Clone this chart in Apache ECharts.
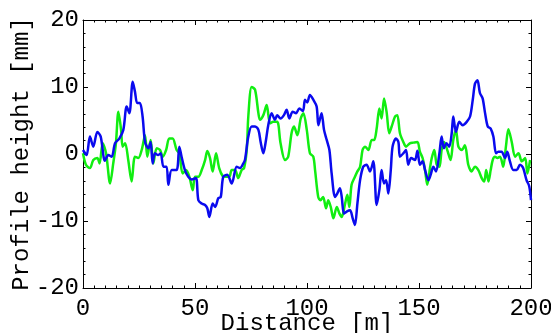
<!DOCTYPE html>
<html><head><meta charset="utf-8">
<script src="https://cdn.jsdelivr.net/npm/echarts@6/dist/echarts.min.js"></script>
<style>html,body{margin:0;padding:0;background:#fff}#c{width:551px;height:333px}</style>
</head><body><div id="c"></div>
<script>
const xTicks = [0, 50, 100, 150, 200];
const yTicks = [-20, -10, 0, 10, 20];

const blueDist = [0,1.6,3.1,4.6,6.4,7.9,9.8,11.3,12.8,14.3,16.2,18,19.5,20.7,22.2,23.2,24.2,25.4,26.6,27.7,29.2,30.2,31.1,32.1,33.6,34.7,35.9,37.3,38.1,39.6,41.8,43,44,45.5,47,48.5,50.4,51.5,53,54.5,55.5,56.4,57.9,59,60.4,61.5,62.6,64.4,66.4,68.6,70.1,71.6,72.3,73.8,75.3,76.8,78.3,79.3,80.5,81.7,82.7,84.2,85.7,86.7,88.2,89.7,90.9,92.1,93.6,95.1,96.6,98.2,99.1,100.1,101.3,102.8,104.3,105.1,106.5,107.6,108.8,110,111,112.5,113.5,114.7,115.5,116.5,117.7,119.2,120.4,121.4,122.5,123.7,125.1,126.6,128.1,129.6,131.1,132.3,133.3,134.4,135.3,136.3,137.4,138.2,139.7,140.8,141.5,143,144.2,145.2,146.5,148.2,149.3,150.4,151.6,152.7,154.2,155.2,156.4,157.6,159.1,160.1,161.1,162.3,163.5,164.6,165.3,166.5,168,169.5,171.3,172.8,174,175,176.1,177.2,178.4,179.5,180.7,182,183.2,184.4,185.4,186.9,188.4,189.4,190.6,192.1,193.6,195.1,196.5,198,199.2,200];
const blueHeight = [0.6,-0.15,2.6,1.1,3.3,2.6,-1.0,-0.15,-0.4,1.6,2.3,3.6,7.1,6.1,10.8,9.3,7.6,7.6,5.6,1.8,0.85,1.8,-1.4,0.1,-0.15,0.1,-1.9,-1.9,-4.6,-2.4,-2.4,1.1,-0.4,-2.4,-3.4,-3.8,-3.6,-6.9,-7.4,-7.6,-8.1,-9.4,-7.4,-7.9,-6.6,-6.4,-3.4,-3.1,-4.4,-1.9,-2.1,-1.4,-0.9,2.6,4.1,4.1,3.6,1.8,0.1,2.1,4.3,6.1,5.1,5.8,5.3,5.8,6.6,5.3,6.3,6.1,6.8,6.4,8.1,7.7,8.8,8.1,7.1,4.3,6.1,3.6,2.1,0.6,-2.9,-6.4,-5.9,-5.1,-6.4,-8.9,-8.6,-8.4,-9.6,-10.6,-7.4,-3.9,-1.9,-1.6,-2.6,-1.1,-7.6,-5.4,-2.4,-4.4,-3.9,-5.9,-2.4,1.1,2.3,1.8,-0.4,0.1,0.6,-1.6,-0.6,-0.9,0.5,-1.6,-1.1,-2.4,-3.9,-3.1,-1.9,-2.6,0.1,2.6,0.85,1.6,1.1,3.1,5.6,3.3,4.8,4.3,4.8,5.6,8.1,10.5,11.0,9.1,8.3,6.1,4.1,3.8,2.6,0.1,0.35,0.35,-0.6,0.35,-1.1,-2.4,-2.4,-1.6,-2.1,-3.9,-4.8,-6.9];

const greenDist = [0,1.3,3.1,4.6,6.4,7.4,8.8,10.3,12.1,13.5,14.7,15.8,17,17.7,18.8,20.2,21.7,23.2,24.7,26.2,27.7,28.7,30.2,31.4,32.9,34.4,35.6,37.1,38.5,40,41.8,43,44.5,46,47.5,49,50,51.5,53,54.5,55.5,56.7,57.9,59.4,60.8,62.4,63.8,65.3,66.4,67.9,69.3,70.8,71.9,73.1,73.8,75.3,76.8,78.3,79,80.5,82,83.5,85,86.7,88.2,90.2,91.6,93.1,94.2,95.7,97.2,98.4,99.9,101.3,102.8,103.6,105,106,107.2,108.5,109.5,110.6,111.8,113.3,114.5,115.5,117,118,118.9,119.9,121.4,122.5,123.7,124.8,125.9,127.4,128.9,130,131.1,132.3,133.3,134.4,135.6,136.7,137.8,139.3,140.3,141.5,143,144.2,145.9,147.5,149.3,150.4,151.6,152.7,153.7,154.9,155.7,156.8,157.9,159.1,160.1,161.2,162.6,164.1,165.3,166.5,167.6,169.1,170.5,172,173.5,175,176.5,178,179.1,180,181,182,182.9,183.9,185,186.2,187.6,188.8,189.9,191.4,192.9,194.4,195.9,197.4,198.4,199.6];
const greenHeight = [0.1,-1.6,-2.1,-0.9,-0.6,-1.4,1.6,0.1,-4.4,-1.4,1.6,6.3,3.6,1.1,1.6,-0.9,-4.1,-0.4,-0.6,0.6,2.8,-0.4,2.1,-1.4,0.85,0.6,-0.4,0.6,2.3,2.3,0.6,0.1,-2.9,-2.4,-3.4,-5.4,-3.4,-3.4,-2.4,-0.9,0.45,-0.6,-2.6,0.1,-2.1,-3.3,-3.4,-3.4,-2.4,-2.4,-3.6,-2.4,-2.1,0.6,5.6,10.0,9.6,6.1,5.1,5.8,7.3,4.6,4.8,4.8,1.6,-0.9,-0.4,3.1,4.1,2.8,5.3,6.1,3.6,0.1,-0.4,-2.4,-6.4,-6.9,-6.4,-8.1,-6.9,-7.9,-9.6,-7.9,-8.9,-9.4,-7.4,-6.1,-7.9,-4.6,-3.4,-2.6,-1.9,0.6,1.1,0.6,2.1,2.1,3.8,6.8,5.3,8.3,6.1,3.1,4.1,5.6,5.8,3.1,1.8,1.1,1.6,1.7,1.8,0.35,-0.6,-2.4,-4.6,-2.1,-0.6,0.6,-1.6,-1.9,0.6,1.8,0.6,-0.9,2.1,3.6,1.1,0.6,1.3,-1.6,-2.6,-1.9,-2.4,-3.6,-4.1,-2.4,-4.1,-2.4,-0.9,-0.4,-0.6,-0.4,-1.9,1.1,3.7,1.8,-0.4,0.1,-1.1,-0.6,-2.9,-0.9];

const zip = (a, b) => a.map((v, i) => [v, b[i]]);
const FONT = 'Liberation Mono';
const textStyle = { fontFamily: FONT, fontSize: 24, color: '#000' };
const axLine = { show: true, onZero: false, lineStyle: { color: '#000', width: 1 } };
const tick = { inside: true, length: 5, lineStyle: { color: '#000' } };

const chart = echarts.init(document.getElementById('c'), null, { renderer: 'canvas' });
chart.setOption({
  animation: false,
  backgroundColor: '#fff',
  grid: { left: 83, right: 20, top: 20, bottom: 45, containLabel: false, outerBoundsMode: 'none' },
  xAxis: [
    { type: 'value', min: xTicks[0], max: xTicks[xTicks.length - 1], interval: 50, position: 'bottom',
      name: 'Distance [m]', nameLocation: 'middle', nameGap: 24, nameMoveOverlap: false, nameTextStyle: textStyle,
      axisLine: axLine, axisTick: tick,
      minorTick: { show: true, splitNumber: 10, length: 2.5, lineStyle: { color: '#000' } },
      axisLabel: { ...textStyle, margin: 9 }, splitLine: { show: false } },
    { type: 'value', min: xTicks[0], max: xTicks[xTicks.length - 1], interval: 50, position: 'top',
      axisLine: axLine, axisTick: tick,
      minorTick: { show: true, splitNumber: 10, length: 2.5, lineStyle: { color: '#000' } },
      axisLabel: { show: false }, splitLine: { show: false } }
  ],
  yAxis: [
    { type: 'value', min: yTicks[0], max: yTicks[yTicks.length - 1], interval: 10, position: 'left',
      name: 'Profile height [mm]', nameLocation: 'middle', nameGap: 49, nameMoveOverlap: false, nameTextStyle: textStyle,
      axisLine: axLine, axisTick: tick,
      minorTick: { show: true, splitNumber: 5, length: 2.5, lineStyle: { color: '#000' } },
      axisLabel: { ...textStyle, margin: 4 }, splitLine: { show: false } },
    { type: 'value', min: yTicks[0], max: yTicks[yTicks.length - 1], interval: 10, position: 'right',
      axisLine: axLine, axisTick: tick,
      minorTick: { show: true, splitNumber: 5, length: 2.5, lineStyle: { color: '#000' } },
      axisLabel: { show: false }, splitLine: { show: false } }
  ],
  series: [
    { type: 'line', data: zip(greenDist, greenHeight), smooth: 0.3, showSymbol: false,
      lineStyle: { color: '#11ee11', width: 2.5 }, z: 2 },
    { type: 'line', data: zip(blueDist, blueHeight), smooth: 0.3, showSymbol: false,
      lineStyle: { color: '#0a0aee', width: 2.5 }, z: 3 }
  ]
});
</script></body></html>
